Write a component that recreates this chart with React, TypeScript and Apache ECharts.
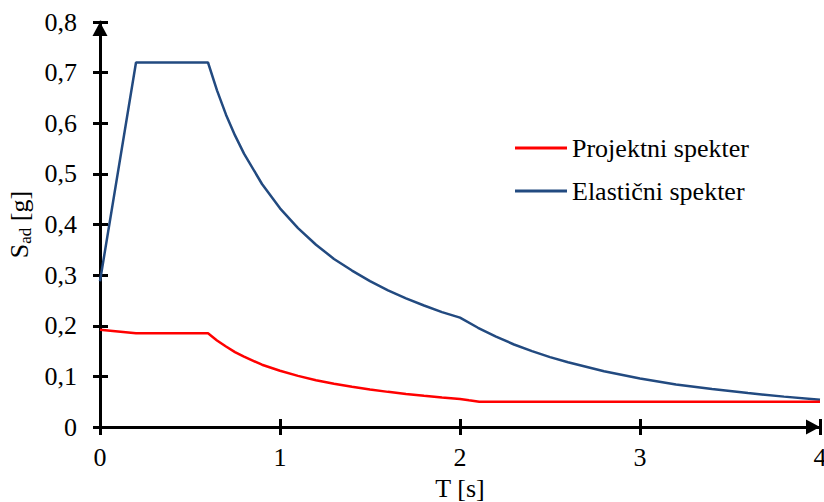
import React, { useEffect, useRef } from "react";
import * as echarts from "echarts";

const periods: number[] = [0, 0.2, 0.6, 0.65, 0.7, 0.75, 0.8, 0.9, 1.0, 1.1, 1.2, 1.3, 1.4, 1.5, 1.6, 1.7, 1.8, 1.9, 2.0, 2.1, 2.2, 2.3, 2.4, 2.5, 2.6, 2.8, 3.0, 3.2, 3.4, 3.6, 3.8, 4.0];
const elastic: number[] = [0.288, 0.72, 0.72, 0.665, 0.617, 0.576, 0.54, 0.48, 0.432, 0.393, 0.36, 0.332, 0.309, 0.288, 0.27, 0.254, 0.24, 0.227, 0.216, 0.196, 0.1785, 0.163, 0.15, 0.138, 0.128, 0.11, 0.096, 0.084, 0.075, 0.067, 0.06, 0.054];
const designPeriods: number[] = [0, 0.2, 0.6, 0.65, 0.7, 0.75, 0.8, 0.9, 1.0, 1.1, 1.2, 1.3, 1.4, 1.5, 1.6, 1.7, 1.8, 1.9, 2.0, 2.05, 2.107, 4.0];
const design: number[] = [0.192, 0.185, 0.185, 0.171, 0.159, 0.148, 0.139, 0.123, 0.111, 0.101, 0.0925, 0.0854, 0.0793, 0.074, 0.0694, 0.0653, 0.0617, 0.0584, 0.0555, 0.0528, 0.05, 0.05];
const seriesNames: string[] = ["Projektni spekter", "Elastični spekter"];

const FONT = "Liberation Serif";

export default function App() {
  const ref = useRef<HTMLDivElement>(null);
  useEffect(() => {
    if (!ref.current) return;
    const chart = echarts.init(ref.current, null, { renderer: "svg" });
    const fmt = (v: number) => (v === 0 ? "0" : String(Math.round(v * 10) / 10).replace(".", ","));
    chart.setOption({
      animation: false,
      backgroundColor: "#ffffff",
      textStyle: { fontFamily: FONT, color: "#000" },
      grid: { left: 100, right: 4, top: 22, bottom: 75, containLabel: false, outerBoundsMode: "none" },
      legend: {
        orient: "vertical",
        left: 510,
        top: 130,
        itemWidth: 52,
        itemHeight: 3,
        itemGap: 17,
        icon: "rect",
        textStyle: { fontFamily: FONT, fontSize: 26, color: "#000" },
        data: seriesNames,
      },
      xAxis: [
        {
          type: "value",
          min: 0,
          max: 4,
          interval: 1,
          name: "T [s]",
          nameLocation: "middle",
          nameGap: 48,
          nameTextStyle: { fontFamily: FONT, fontSize: 26, color: "#000" },
          axisLine: { lineStyle: { color: "#000", width: 3 }, symbol: ["none", "triangle"], symbolSize: [15, 14], symbolOffset: [0, -7] },
          axisTick: { show: true, inside: false, length: 8, lineStyle: { color: "#000", width: 3 } },
          axisLabel: { fontFamily: FONT, fontSize: 26, color: "#000", margin: 17, formatter: fmt },
          splitLine: { show: false },
        },
        {
          type: "value",
          min: 0,
          max: 4,
          interval: 1,
          position: "bottom",
          axisLine: { show: false },
          axisTick: { show: true, inside: true, length: 8, lineStyle: { color: "#000", width: 3 } },
          axisLabel: { show: false },
          splitLine: { show: false },
        },
      ],
      yAxis: [
        {
          type: "value",
          min: 0,
          max: 0.8,
          interval: 0.1,
          name: "{m|S}{s|ad}{m| [g]}",
          nameLocation: "middle",
          nameGap: 66,
          nameRotate: 90,
          nameTextStyle: {
            rich: {
              m: { fontFamily: FONT, fontSize: 26, color: "#000" },
              s: { fontFamily: FONT, fontSize: 17, color: "#000", verticalAlign: "bottom", padding: [12, 0, 0, 0] },
            },
          },
          axisLine: { lineStyle: { color: "#000", width: 3 }, symbol: ["none", "triangle"], symbolSize: [15, 14], symbolOffset: [0, -7] },
          axisTick: { show: true, inside: false, length: 7, lineStyle: { color: "#000", width: 3 } },
          axisLabel: { fontFamily: FONT, fontSize: 26, color: "#000", margin: 23, formatter: fmt },
          splitLine: { show: false },
        },
        {
          type: "value",
          min: 0,
          max: 0.8,
          interval: 0.1,
          position: "left",
          axisLine: { show: false },
          axisTick: { show: true, inside: true, length: 8, lineStyle: { color: "#000", width: 3 } },
          axisLabel: { show: false },
          splitLine: { show: false },
        },
      ],
      series: [
        {
          name: seriesNames[0],
          type: "line",
          showSymbol: false,
          symbol: "none",
          smooth: false,
          lineStyle: { color: "#ff0000", width: 2.5 },
          itemStyle: { color: "#ff0000" },
          data: designPeriods.map((t, i) => [t, design[i]]),
          z: 3,
        },
        {
          name: seriesNames[1],
          type: "line",
          showSymbol: false,
          symbol: "none",
          smooth: false,
          lineStyle: { color: "#224a80", width: 2.5 },
          itemStyle: { color: "#224a80" },
          data: periods.map((t, i) => [t, elastic[i]]),
          z: 2,
        },
      ],
    });
    return () => chart.dispose();
  }, []);
  return <div ref={ref} style={{ width: 824, height: 502, position: "absolute", left: 0, top: 0 }} />;
}
